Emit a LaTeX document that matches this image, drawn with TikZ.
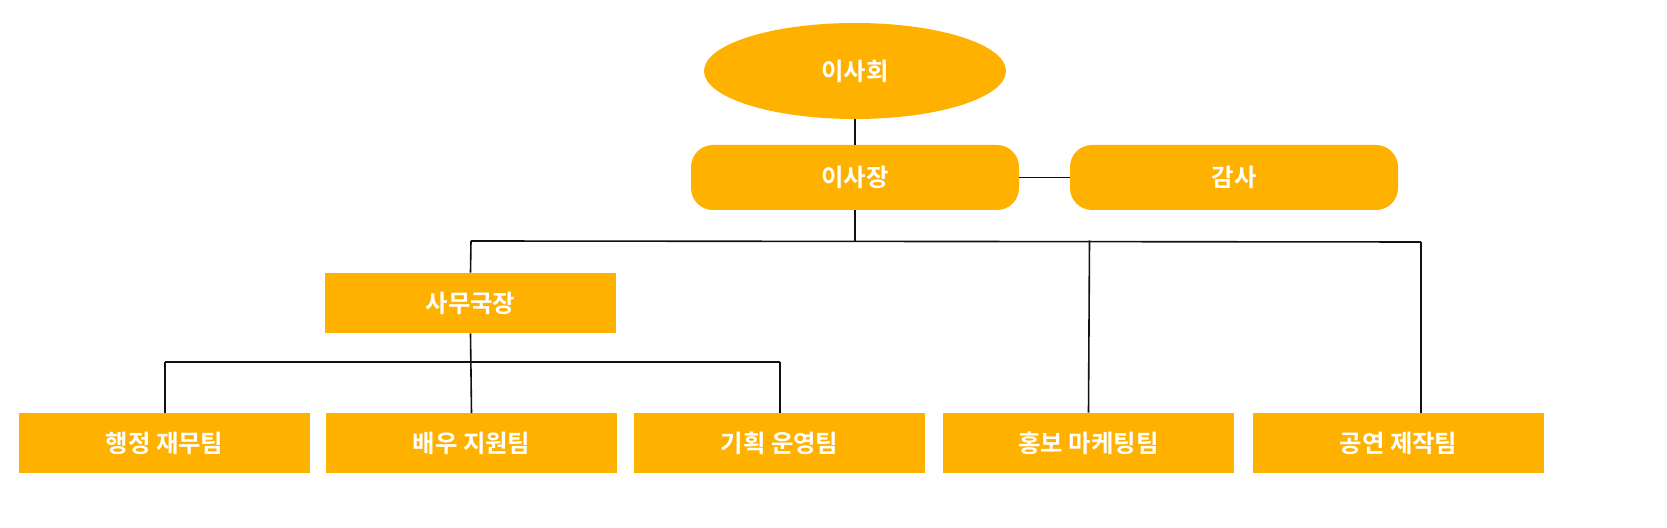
\documentclass[tikz,border=0pt]{standalone}
\usepackage{fontspec}
\usepackage{xcolor}
\usepackage{tikz}
\usetikzlibrary{calc,shapes.geometric}
\newfontfamily\krfont{Noto Sans CJK KR Bold}
\definecolor{amber}{HTML}{FFB100}
\definecolor{ink}{HTML}{111111}
\tikzset{
  base/.style={draw=ink, line width=0.8pt},
  unit/.style={fill=amber, text=white, font=\krfont\fontsize{12.2}{14}\selectfont, minimum width=145.5pt, minimum height=30pt, inner sep=0pt},
  pill/.style={unit, rounded corners=11pt, minimum width=164pt, minimum height=32.5pt},
  oval/.style={unit, ellipse, minimum width=151pt, minimum height=48pt},
}
\begin{document}
\begin{tikzpicture}[x=0.5pt,y=-0.5pt]
  \useasboundingbox (0,0) rectangle (1667,528);

  \node[oval] (board) at (855,71) {이사회};
  \node[pill] (chair) at (855,177.5) {이사장};
  \node[pill] (audit) at (1234,177.5) {감사};
  \node[unit] (office) at (470.5,303) {사무국장};

  \node[unit] (admin) at (164.5,443) {행정 재무팀};
  \node[unit] (actor) at (471.5,443.5) {배우 지원팀};
  \node[unit] (plan) at (779.5,443.5) {기획 운영팀};
  \node[unit] (promo) at (1088.5,443) {홍보 마케팅팀};
  \node[unit] (stage) at (1398.5,443) {공연 제작팀};

  \coordinate (busL) at (471,241);
  \coordinate (busR) at (1421,242);
  \coordinate (subL) at (165,362);
  \coordinate (subR) at (780,362);

  \draw[base] (board) -- (chair);
  \draw[base] (chair) -- (audit);
  \draw[base] (chair.south) -- (chair.south |- busL);
  \draw[base] (busL) -- (busR);
  \draw[base] (busL) -- (office.north);
  \draw[base] (1089.5,240.5) -- (promo.north);
  \draw[base] (busR) -- (busR |- stage.north);

  \draw[base] (office.south) -- (actor.north);
  \draw[base] (subL) -- (subR);
  \draw[base] (subL) -- (subL |- admin.north);
  \draw[base] (subR) -- (subR |- plan.north);
\end{tikzpicture}
\end{document}
